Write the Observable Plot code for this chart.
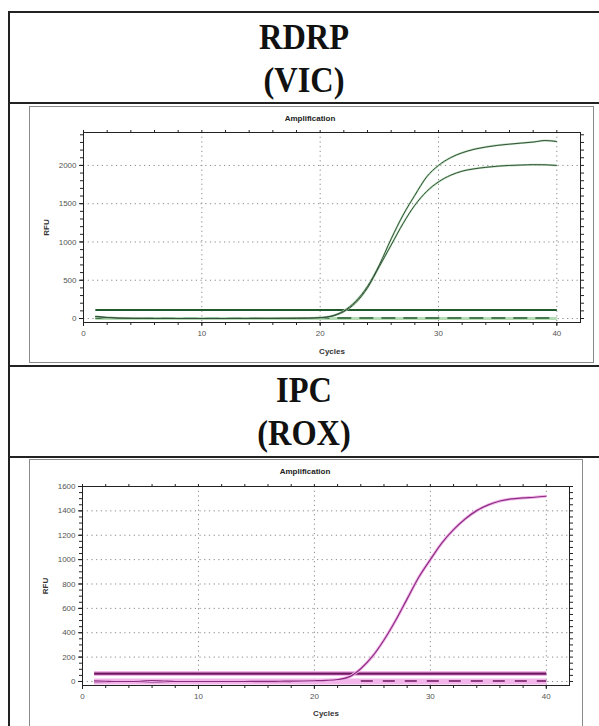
<!DOCTYPE html>
<html>
<head>
<meta charset="utf-8">
<script src="https://cdn.jsdelivr.net/npm/d3@7"></script>
<script src="https://cdn.jsdelivr.net/npm/@observablehq/plot@0.6"></script>
<style>
  html, body { margin: 0; padding: 0; background: #fff; }
  #page { position: relative; width: 599px; height: 726px; overflow: hidden; background: #fff; font-family: Arial, "Liberation Sans", sans-serif; }
  .hl { position: absolute; height: 2px; background: #222; }
  .vl { position: absolute; width: 2px; background: #222; }
  .title { position: absolute; left: 9px; width: 590px; text-align: center; font-family: "Liberation Serif", "DejaVu Serif", serif; font-weight: bold; font-size: 36px; line-height: 43px; color: #111; }
  .title span { display: inline-block; transform: scaleX(0.9); }
  .box { position: absolute; border: 1px solid #8a8a8a; box-sizing: border-box; background: #fff; }
  .plot { position: absolute; }
  .amp { position: absolute; font-family: Arial, "Liberation Sans", sans-serif; font-weight: bold; font-size: 8px; color: #222; transform: translateX(-50%); white-space: nowrap; }
  .plot svg g[aria-label="x-axis label"] text, .plot svg g[aria-label="y-axis label"] text { font-weight: bold; fill: #333; }
</style>
</head>
<body>
<div id="page">
  <div class="hl" style="left:9px; top:11px; width:590px;"></div>
  <div class="vl" style="left:8px; top:11px; height:715px;"></div>
  <div class="hl" style="left:9px; top:102px; width:590px;"></div>
  <div class="hl" style="left:9px; top:365px; width:590px;"></div>
  <div class="hl" style="left:9px; top:456px; width:590px;"></div>

  <div class="title" style="top:16px;"><span>RDRP</span><br><span>(VIC)</span></div>
  <div class="title" style="top:369px;"><span>IPC</span><br><span>(ROX)</span></div>

  <div class="box" style="left:29px; top:106px; width:565px; height:257px;"></div>
  <div class="box" style="left:29px; top:459px; width:554px; height:280px;"></div>

  <div id="chart1" class="plot" style="left:29px; top:107px;"></div>
  <div id="chart2" class="plot" style="left:29px; top:459px;"></div>

  <div class="amp" style="left:310px; top:114px;">Amplification</div>
  <div class="amp" style="left:305px; top:467px;">Amplification</div>
</div>
<script>
// ---------- data ----------
const cycles = [1,2,3,4,5,6,7,8,9,10,11,12,13,14,15,16,17,18,19,20,21,22,23,24,25,26,27,28,29,30,31,32,33,34,35,36,37,38,39,40];

// RDRP (VIC) amplification curves
const rdrpHigh = [28,14,6,3,2,1,1,0,0,0,0,0,1,1,2,2,3,4,6,
                  12,35,100,225,420,700,1040,1350,1610,1850,2000,2100,2165,2210,2240,2262,2278,2292,2305,2325,2312];
const rdrpLow  = [26,12,5,3,2,1,1,0,0,0,0,0,1,1,2,2,3,4,5,
                  10,30,90,205,400,680,960,1240,1480,1660,1785,1870,1925,1955,1975,1990,2000,2005,2010,2008,2000];
const rdrpThreshold = 110;
const rdrpFlatCycles = [1, 40];
const rdrpFlat = [0, 0];
const rdrpNeg = [6, 6];

// IPC (ROX) amplification curve
const roxCurve = [5,2,0,0,2,8,4,0,0,0,0,0,0,0,1,1,2,3,4,6,
                  9,16,38,105,205,340,500,678,855,1000,1137,1246,1334,1402,1449,1481,1498,1506,1512,1520];
const roxThreshold = 65;
const roxFlatCycles = [1, 18];
const roxFlat = [0, 0];
const roxNegCycles = [24, 40];
const roxNeg = [4, 4];

// axis ticks
const xTicks = [0, 10, 20, 30, 40];
const xMinor = [0,2,4,6,8,10,12,14,16,18,20,22,24,26,28,30,32,34,36,38,40];
const rdrpYTicks = [0, 500, 1000, 1500, 2000];
const roxYTicks = [0, 200, 400, 600, 800, 1000, 1200, 1400, 1600];

const toRows = (xs, ys) => xs.map((x, i) => ({x, y: ys[i]}));

function ampChart({width, height, margins, yDomain, yTicks, yMinorStep, lines, xLabelOffset, yLabelOffset}) {
  const yMinor = d3.range(Math.ceil(yDomain[0] / yMinorStep) * yMinorStep, yDomain[1] + 1, yMinorStep);
  const marks = [
    Plot.gridX(xTicks, {stroke: "#888", strokeOpacity: 1, strokeDasharray: "1.2,3.5", strokeWidth: 1}),
    Plot.gridY(yTicks, {stroke: "#888", strokeOpacity: 1, strokeDasharray: "1.2,3.5", strokeWidth: 1}),
    Plot.frame({stroke: "#222", strokeWidth: 1})
  ];
  for (const l of lines) {
    marks.push(Plot.line(l.data, {x: "x", y: "y", stroke: l.color, strokeWidth: l.width, strokeDasharray: l.dash, curve: "monotone-x", strokeLinecap: "butt"}));
  }
  const blank = () => "";
  marks.push(
    Plot.axisX({ticks: xMinor, tickSize: 3, tickFormat: blank, stroke: "#222", label: null}),
    Plot.axisX({ticks: xMinor, anchor: "top", tickSize: 3, tickFormat: blank, stroke: "#222", label: null}),
    Plot.axisY({ticks: yMinor, tickSize: 3, tickFormat: blank, stroke: "#222", label: null}),
    Plot.axisY({ticks: yMinor, anchor: "right", tickSize: 3, tickFormat: blank, stroke: "#222", label: null}),
    Plot.axisX({ticks: xTicks, tickSize: 4, tickPadding: 4, stroke: "#222", fill: "#555", fontSize: 8, tickFormat: d => String(d),
      label: "Cycles", labelAnchor: "center", labelArrow: "none", labelOffset: xLabelOffset}),
    Plot.axisY({ticks: yTicks, tickSize: 4, tickPadding: 3, stroke: "#222", fill: "#555", fontSize: 8, tickFormat: d => String(d),
      label: "RFU", labelAnchor: "center", labelArrow: "none", labelOffset: yLabelOffset})
  );
  return Plot.plot({
    width, height,
    marginLeft: margins[3], marginTop: margins[0], marginRight: margins[1], marginBottom: margins[2],
    style: {fontFamily: "Arial, 'Liberation Sans', sans-serif", fontSize: "8px", background: "transparent", color: "#444"},
    x: {domain: [0, 42]},
    y: {domain: yDomain},
    marks
  });
}

const green = "#1f5a2c", greenLight = "#b5dcb5", greenCurve = "#34503b";
document.getElementById("chart1").appendChild(ampChart({
  width: 564, height: 255, margins: [25, 13, 40, 54],
  yDomain: [-52, 2430], yTicks: rdrpYTicks, yMinorStep: 100,
  xLabelOffset: 31, yLabelOffset: 40,
  lines: [
    {data: toRows(rdrpFlatCycles, rdrpFlat), color: greenLight, width: 3},
    {data: toRows(rdrpFlatCycles, rdrpNeg), color: green, width: 1.5, dash: "14,8"},
    {data: toRows(rdrpFlatCycles, [rdrpThreshold, rdrpThreshold]), color: green, width: 2},
    {data: toRows(cycles, rdrpHigh), color: greenLight, width: 2},
    {data: toRows(cycles, rdrpLow), color: greenLight, width: 2},
    {data: toRows(cycles, rdrpHigh), color: greenCurve, width: 1},
    {data: toRows(cycles, rdrpLow), color: greenCurve, width: 1}
  ]
}));

const purple = "#6f1560", pink = "#f2b6ea", purpleCurve = "#8c2d82";
document.getElementById("chart2").appendChild(ampChart({
  width: 553, height: 267, margins: [27, 13, 41, 53],
  yDomain: [-33, 1600], yTicks: roxYTicks, yMinorStep: 50,
  xLabelOffset: 30, yLabelOffset: 40,
  lines: [
    {data: toRows([1, 40], [0, 0]), color: pink, width: 6},
    {data: toRows(roxFlatCycles, roxFlat), color: purple, width: 1.8},
    {data: toRows(roxNegCycles, roxNeg), color: purple, width: 1.5, dash: "12,10"},
    {data: toRows([1, 40], [roxThreshold, roxThreshold]), color: pink, width: 5},
    {data: toRows([1, 40], [roxThreshold, roxThreshold]), color: purple, width: 2.2},
    {data: toRows(cycles, roxCurve), color: pink, width: 3},
    {data: toRows(cycles, roxCurve), color: purpleCurve, width: 1.2}
  ]
}));
</script>
</body>
</html>
